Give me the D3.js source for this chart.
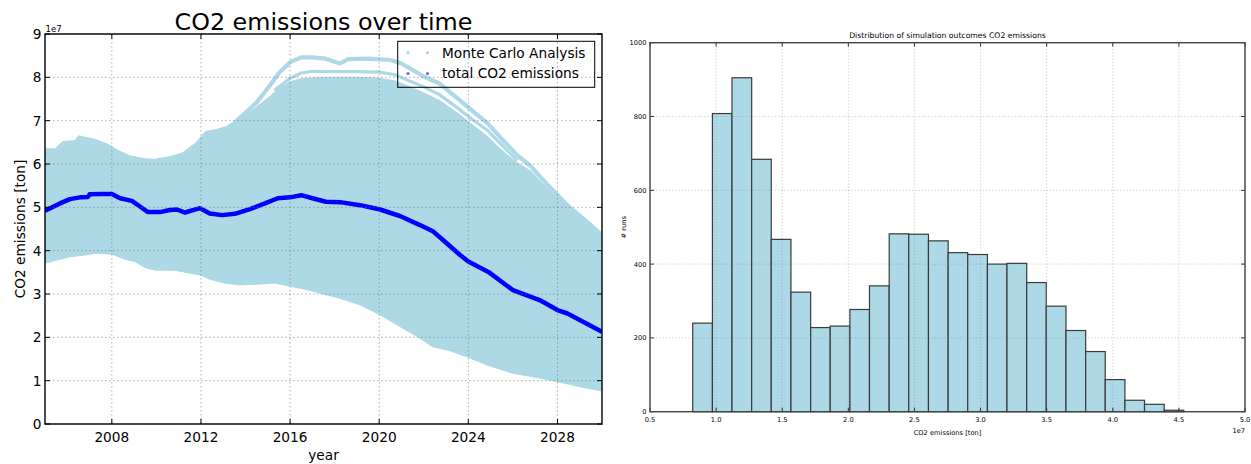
<!DOCTYPE html>
<html><head><meta charset="utf-8">
<script src="https://cdn.jsdelivr.net/npm/d3@7"></script>
<style>body{margin:0;background:#fff}svg{display:block}text{font-family:"DejaVu Sans",sans-serif;fill:#000}</style>
</head><body><svg id="c" width="1251" height="464"></svg>
<script>
// ---------- LEFT CHART DATA (values in units of 1e7 ton) ----------
const upperYears  = [2005.0,2005.45,2005.8,2006.35,2006.5,2007.25,2007.8,2008.25,2008.8,2009.5,2009.95,2010.6,2011.15,2011.75,2012.2,2012.65,2013.1,2013.75,2014.4,2015.0,2015.5,2016.0,2016.5,2017.5,2019.0,2020.0,2020.7,2021.3,2022.0,2022.7,2023.5,2024.2,2024.85,2025.5,2026.2,2026.8,2027.5,2028.5,2029.3,2030.0];
const upperValues = [6.35,6.35,6.52,6.54,6.65,6.57,6.46,6.32,6.19,6.12,6.11,6.17,6.25,6.48,6.75,6.79,6.86,7.05,7.28,7.52,7.75,7.90,7.97,8.00,8.00,7.98,7.92,7.80,7.64,7.47,7.18,6.90,6.64,6.32,6.02,5.84,5.46,4.95,4.62,4.31];
const lowerYears  = [2005.0,2005.67,2006.12,2006.8,2007.24,2008.0,2008.6,2009.04,2009.49,2009.94,2010.83,2011.5,2011.96,2012.4,2013.08,2013.75,2014.65,2015.32,2016.0,2016.67,2017.34,2018.24,2019.14,2020.04,2020.93,2021.7,2022.41,2023.18,2023.94,2024.84,2026.0,2026.9,2027.98,2029.01,2030.0];
const lowerValues = [3.71,3.80,3.86,3.90,3.94,3.92,3.80,3.75,3.61,3.55,3.55,3.48,3.44,3.34,3.25,3.21,3.23,3.25,3.18,3.11,3.02,2.90,2.75,2.52,2.25,2.02,1.78,1.69,1.55,1.36,1.17,1.09,0.98,0.86,0.76];
// outlying Monte Carlo runs near the top of the envelope
const runAYears  = [2013.5,2014.5,2015.0,2015.5,2016.0,2016.5,2017.0,2017.6,2018.0,2018.25,2018.6,2019.5,2020.5,2021.0,2021.5,2022.0,2022.7,2023.5,2024.2,2024.85,2025.5,2026.2,2026.8,2027.5,2028.5,2029.3,2030.0];
const runAValues = [6.95,7.42,7.75,8.10,8.35,8.46,8.46,8.43,8.36,8.32,8.42,8.43,8.40,8.32,8.17,8.02,7.86,7.52,7.22,6.95,6.58,6.20,5.95,5.55,5.02,4.68,4.36];
const runBYears  = [2015.3,2016.0,2016.5,2017.0,2018.0,2019.0,2020.0,2020.7,2021.3,2022.0,2022.7,2023.5,2024.2,2024.85,2025.5,2026.2];
const runBValues = [7.70,7.98,8.10,8.14,8.13,8.13,8.12,8.06,7.93,7.78,7.60,7.30,7.02,6.78,6.44,6.08];
const totalYears  = [2005.0,2005.67,2006.12,2006.57,2006.93,2007.0,2007.5,2008.0,2008.37,2008.9,2009.26,2009.62,2010.16,2010.6,2010.93,2011.28,2011.96,2012.4,2012.94,2013.52,2014.2,2014.87,2015.45,2016.0,2016.5,2017.0,2017.6,2018.24,2019.14,2020.04,2020.93,2021.83,2022.43,2023.03,2023.63,2024.0,2024.9,2026.0,2027.2,2028.0,2028.45,2030.0];
const totalValues = [4.92,5.09,5.19,5.23,5.24,5.30,5.31,5.31,5.21,5.15,5.02,4.89,4.89,4.94,4.95,4.88,4.98,4.86,4.82,4.85,4.96,5.09,5.21,5.23,5.28,5.21,5.13,5.12,5.05,4.95,4.80,4.59,4.44,4.17,3.90,3.75,3.51,3.09,2.86,2.63,2.55,2.13];
const yearTicks = [2008,2012,2016,2020,2024,2028];
const leftYTicks = [0,1,2,3,4,5,6,7,8,9];
const legendLabels = ["Monte Carlo Analysis","total CO2 emissions"];

// ---------- RIGHT CHART DATA ----------
const binEdges = [0.823,0.972,1.120,1.269,1.417,1.566,1.715,1.863,2.012,2.160,2.309,2.457,2.606,2.755,2.903,3.052,3.200,3.349,3.497,3.646,3.795,3.943,4.092,4.240,4.389,4.537]; // 1e7 ton
const binCounts = [240,808,905,684,467,324,228,232,277,341,482,481,463,431,426,400,402,350,286,220,163,87,31,20,4];
const histXTicks = [0.5,1.0,1.5,2.0,2.5,3.0,3.5,4.0,4.5,5.0];
const histYTicks = [0,200,400,600,800,1000];

const svg = d3.select("#c");
const LB = "#add8e6";

// ================= LEFT =================
const L = {x0:45, x1:602, y0:34, y1:424};
const x = d3.scaleLinear().domain([2005,2030]).range([L.x0,L.x1]);
const y = d3.scaleLinear().domain([0,9]).range([L.y1,L.y0]);
const gL = svg.append("g");
gL.append("clipPath").attr("id","clipL").append("rect").attr("x",L.x0).attr("y",L.y0).attr("width",L.x1-L.x0).attr("height",L.y1-L.y0);
const plot = gL.append("g").attr("clip-path","url(#clipL)");

const upperPts = upperYears.map((t,i)=>[t,upperValues[i]]);
const lowerPts = lowerYears.map((t,i)=>[t,lowerValues[i]]).reverse();
const ln = d3.line().x(d=>x(d[0])).y(d=>y(d[1]));
plot.append("path").attr("d", ln(upperPts.concat(lowerPts))+"Z").attr("fill",LB).attr("stroke",LB).attr("stroke-width",1);
plot.append("path").attr("d", ln(runBYears.map((t,i)=>[t,runBValues[i]]))).attr("fill","none").attr("stroke",LB).attr("stroke-width",3.2).attr("stroke-linejoin","round");
plot.append("path").attr("d", ln(runAYears.map((t,i)=>[t,runAValues[i]]))).attr("fill","none").attr("stroke",LB).attr("stroke-width",4.2).attr("stroke-linejoin","round");

// grid
const gridL = gL.append("g").attr("stroke","#777").attr("stroke-opacity",0.6).attr("stroke-dasharray","1.5,2.5").attr("stroke-width",1);
yearTicks.forEach(t=>gridL.append("line").attr("x1",x(t)).attr("x2",x(t)).attr("y1",L.y0).attr("y2",L.y1));
leftYTicks.forEach(v=>gridL.append("line").attr("x1",L.x0).attr("x2",L.x1).attr("y1",y(v)).attr("y2",y(v)));

plot.append("path").attr("d", ln(totalYears.map((t,i)=>[t,totalValues[i]]))).attr("fill","none").attr("stroke","#0000ff").attr("stroke-width",4.5).attr("stroke-linejoin","round");

// ticks (inside, all sides)
const tk = gL.append("g").attr("stroke","#000").attr("stroke-width",1);
yearTicks.forEach(t=>{tk.append("line").attr("x1",x(t)).attr("x2",x(t)).attr("y1",L.y1).attr("y2",L.y1-5);tk.append("line").attr("x1",x(t)).attr("x2",x(t)).attr("y1",L.y0).attr("y2",L.y0+5);});
leftYTicks.forEach(v=>{tk.append("line").attr("x1",L.x0).attr("x2",L.x0+5).attr("y1",y(v)).attr("y2",y(v));tk.append("line").attr("x1",L.x1).attr("x2",L.x1-5).attr("y1",y(v)).attr("y2",y(v));});
gL.append("rect").attr("x",L.x0).attr("y",L.y0).attr("width",L.x1-L.x0).attr("height",L.y1-L.y0).attr("fill","none").attr("stroke","#000").attr("stroke-width",1.4);

// tick labels
yearTicks.forEach(t=>gL.append("text").attr("x",x(t)).attr("y",441.5).attr("text-anchor","middle").attr("font-size",13.7).text(t));
leftYTicks.forEach(v=>gL.append("text").attr("x",41.5).attr("y",y(v)).attr("dy","0.36em").attr("text-anchor","end").attr("font-size",13.7).text(v));
gL.append("text").attr("x",45.5).attr("y",32).attr("font-size",8.6).text("1e7");
gL.append("text").attr("x",(L.x0+L.x1)/2).attr("y",30).attr("text-anchor","middle").attr("font-size",23.8).text("CO2 emissions over time");
gL.append("text").attr("x",(L.x0+L.x1)/2).attr("y",460).attr("text-anchor","middle").attr("font-size",13.7).text("year");
gL.append("text").attr("transform",`translate(24.5,${(L.y0+L.y1)/2}) rotate(-90)`).attr("text-anchor","middle").attr("font-size",13.7).text("CO2 emissions [ton]");

// legend
const lg = gL.append("g");
lg.append("rect").attr("x",397.7).attr("y",41.3).attr("width",197).attr("height",46).attr("fill","none").attr("stroke","#000").attr("stroke-width",1);
const legColors = [LB,"#0000ff"];
legendLabels.forEach((lab,i)=>{
  const yy = 52.7 + i*20.8;
  [408,427.5].forEach(xx=>lg.append("circle").attr("cx",xx).attr("cy",yy).attr("r",1.6).attr("fill",legColors[i]).attr("fill-opacity",i?0.6:1));
  lg.append("text").attr("x",442).attr("y",yy).attr("dy","0.36em").attr("font-size",13.7).text(lab);
});

// ================= RIGHT =================
const R = {x0:650, x1:1245, y0:42.7, y1:411.7};
const hx = d3.scaleLinear().domain([0.5,5.0]).range([R.x0,R.x1]);
const hy = d3.scaleLinear().domain([0,1000]).range([R.y1,R.y0]);
const gR = svg.append("g");
gR.selectAll("rect.bar").data(binCounts).enter().append("rect").attr("class","bar")
  .attr("x",(d,i)=>hx(binEdges[i])).attr("width",(d,i)=>hx(binEdges[i+1])-hx(binEdges[i]))
  .attr("y",d=>hy(d)).attr("height",d=>hy(0)-hy(d))
  .attr("fill",LB).attr("stroke","#3a3a3a").attr("stroke-width",1.2);
const gridR = gR.append("g").attr("stroke","#888").attr("stroke-opacity",0.5).attr("stroke-dasharray","1.2,2").attr("stroke-width",0.8);
histXTicks.forEach(t=>gridR.append("line").attr("x1",hx(t)).attr("x2",hx(t)).attr("y1",R.y0).attr("y2",R.y1));
histYTicks.forEach(v=>gridR.append("line").attr("x1",R.x0).attr("x2",R.x1).attr("y1",hy(v)).attr("y2",hy(v)));
const tkR = gR.append("g").attr("stroke","#333").attr("stroke-width",1);
histXTicks.forEach(t=>{tkR.append("line").attr("x1",hx(t)).attr("x2",hx(t)).attr("y1",R.y1).attr("y2",R.y1-4);tkR.append("line").attr("x1",hx(t)).attr("x2",hx(t)).attr("y1",R.y0).attr("y2",R.y0+4);});
histYTicks.forEach(v=>{tkR.append("line").attr("x1",R.x0).attr("x2",R.x0+4).attr("y1",hy(v)).attr("y2",hy(v));tkR.append("line").attr("x1",R.x1).attr("x2",R.x1-4).attr("y1",hy(v)).attr("y2",hy(v));});
gR.append("rect").attr("x",R.x0).attr("y",R.y0).attr("width",R.x1-R.x0).attr("height",R.y1-R.y0).attr("fill","none").attr("stroke","#444").attr("stroke-width",1.4);
histXTicks.forEach(t=>gR.append("text").attr("x",hx(t)).attr("y",421.5).attr("text-anchor","middle").attr("font-size",6.7).attr("fill","#222").text(t.toFixed(1)));
histYTicks.forEach(v=>gR.append("text").attr("x",646.5).attr("y",hy(v)).attr("dy","0.36em").attr("text-anchor","end").attr("font-size",6.7).attr("fill","#222").text(v));
gR.append("text").attr("x",(R.x0+R.x1)/2).attr("y",38).attr("text-anchor","middle").attr("font-size",7.7).attr("fill","#222").text("Distribution of simulation outcomes CO2 emissions");
gR.append("text").attr("x",(R.x0+R.x1)/2).attr("y",434.5).attr("text-anchor","middle").attr("font-size",6.7).attr("fill","#222").text("CO2 emissions [ton]");
gR.append("text").attr("x",R.x1).attr("y",433).attr("text-anchor","end").attr("font-size",6.7).attr("fill","#222").text("1e7");
gR.append("text").attr("transform",`translate(626,${(R.y0+R.y1)/2}) rotate(-90)`).attr("text-anchor","middle").attr("font-size",6.7).attr("fill","#222").text("# runs");
</script></body></html>
